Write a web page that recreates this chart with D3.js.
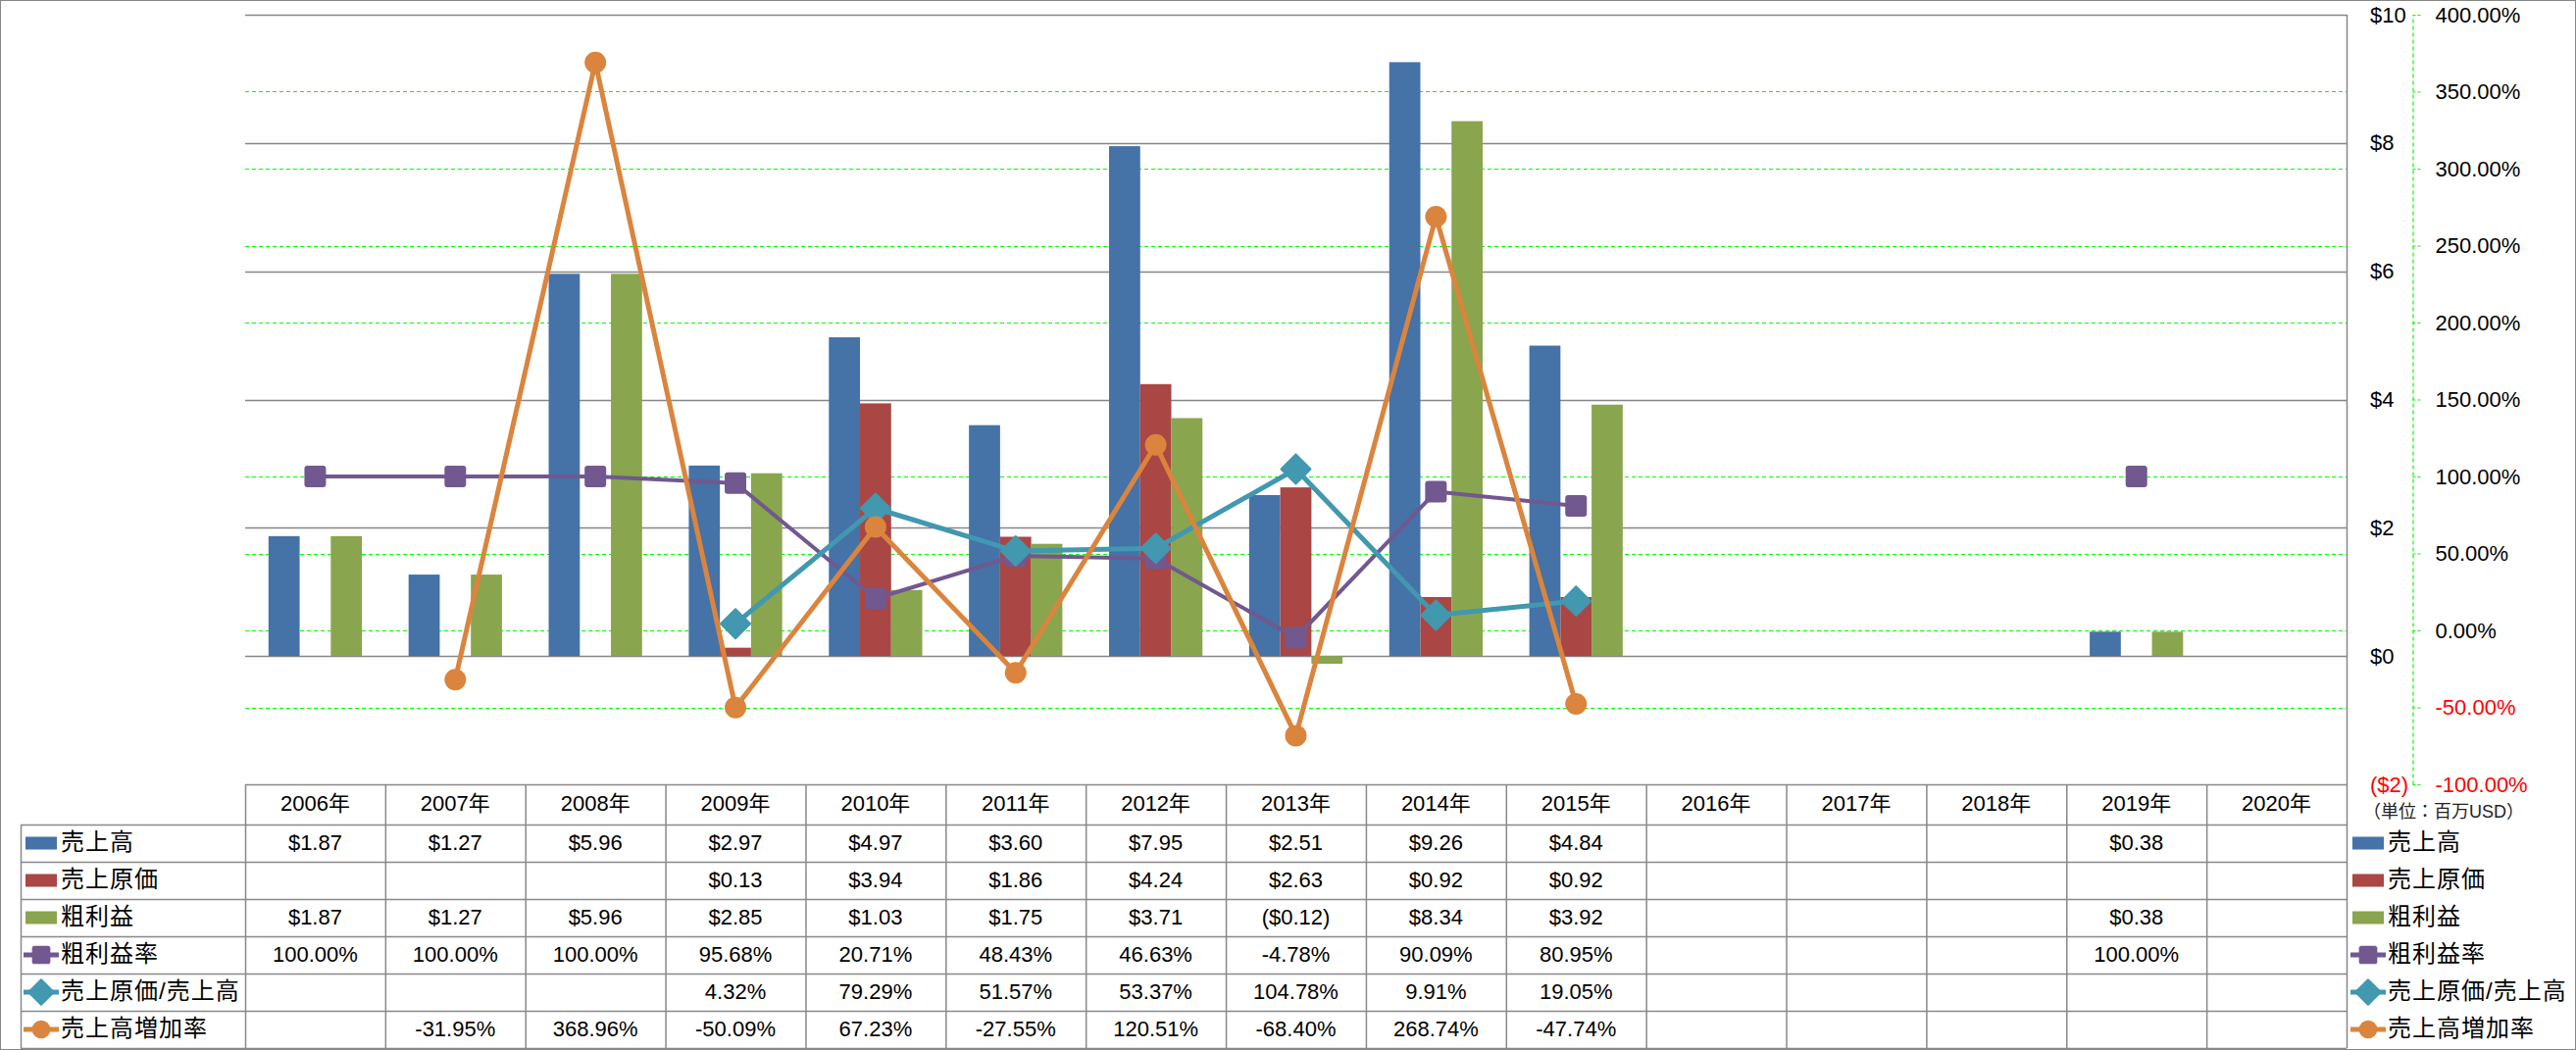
<!DOCTYPE html>
<html>
<head>
<meta charset="utf-8">
<script src="https://cdn.jsdelivr.net/npm/d3@7"></script>
<style>
  html, body { margin: 0; padding: 0; background: #fff; }
  svg { display: block; font-family: "Liberation Sans", "Noto Sans CJK JP", sans-serif; }
</style>
</head>
<body>
<svg id="chart" width="2627" height="1071"></svg>
<script>
// ---------------- DATA ----------------
const years = ["2006年","2007年","2008年","2009年","2010年","2011年","2012年","2013年","2014年","2015年","2016年","2017年","2018年","2019年","2020年"];
const sales       = [1.87, 1.27, 5.96, 2.97, 4.97, 3.60, 7.95, 2.51, 9.26, 4.84, null, null, null, 0.38, null];
const cogs        = [null, null, null, 0.13, 3.94, 1.86, 4.24, 2.63, 0.92, 0.92, null, null, null, null, null];
const gross       = [1.87, 1.27, 5.96, 2.85, 1.03, 1.75, 3.71, -0.12, 8.34, 3.92, null, null, null, 0.38, null];
const grossRate   = [100, 100, 100, 95.68, 20.71, 48.43, 46.63, -4.78, 90.09, 80.95, null, null, null, 100, null];
const cogsRatio   = [null, null, null, 4.32, 79.29, 51.57, 53.37, 104.78, 9.91, 19.05, null, null, null, null, null];
const salesGrowth = [null, -31.95, 368.96, -50.09, 67.23, -27.55, 120.51, -68.40, 268.74, -47.74, null, null, null, null, null];

const usdTicks = [-2, 0, 2, 4, 6, 8, 10];
const pctTicks = [-100, -50, 0, 50, 100, 150, 200, 250, 300, 350, 400];
const unitLabel = "（単位：百万USD）";

const seriesNames = ["売上高", "売上原価", "粗利益", "粗利益率", "売上原価/売上高", "売上高増加率"];
const colors = ["#4572A7", "#AA4643", "#89A54E", "#71588F", "#4198AF", "#DB843D"];

// ---------------- LAYOUT ----------------
const W = 2627, H = 1071;
const plotL = 250, plotR = 2393, plotT = 15, plotB = 800;
const rowTop = 841, rowH = 38, tableLeft = 21;
const fontSize = 22;
const legendFont = 24;

const svg = d3.select("#chart");

const x = d3.scaleBand().domain(years).range([plotL, plotR]).paddingInner(0).paddingOuter(0);
const xs = d3.scaleBand().domain(["s","c","g"]).range([0, x.bandwidth()]).paddingInner(0).paddingOuter(0.75);
const yUsd = d3.scaleLinear().domain([-2, 10]).range([plotB, plotT]);
const yPct = d3.scaleLinear().domain([-100, 400]).range([plotB, plotT]);

// outer border
svg.append("rect").attr("x", 0.5).attr("y", 0.5).attr("width", W - 1).attr("height", H - 1)
  .attr("fill", "#fff").attr("stroke", "#868686").attr("stroke-width", 1);

// green dashed percent gridlines
svg.append("g").selectAll("line").data(pctTicks.filter(t => t !== 400 && t !== -100)).join("line")
  .attr("x1", plotL).attr("x2", plotR)
  .attr("y1", d => Math.round(yPct(d)) + 0.5).attr("y2", d => Math.round(yPct(d)) + 0.5)
  .attr("stroke", "#00FF00").attr("stroke-width", 1.2).attr("stroke-dasharray", "4,3");

// gray usd gridlines
svg.append("g").selectAll("line").data(usdTicks.filter(t => t !== -2)).join("line")
  .attr("x1", plotL).attr("x2", plotR)
  .attr("y1", d => Math.round(yUsd(d)) + 0.5).attr("y2", d => Math.round(yUsd(d)) + 0.5)
  .attr("stroke", "#868686").attr("stroke-width", 1.5);

// bars
const barSeries = [
  {key: "s", vals: sales, color: colors[0]},
  {key: "c", vals: cogs, color: colors[1]},
  {key: "g", vals: gross, color: colors[2]}
];
const barG = svg.append("g");
barSeries.forEach(s => {
  barG.append("g").selectAll("rect")
    .data(s.vals.map((v, i) => ({v, yr: years[i]})).filter(d => d.v != null))
    .join("rect")
    .attr("x", d => x(d.yr) + xs(s.key))
    .attr("width", xs.bandwidth())
    .attr("y", d => Math.min(yUsd(d.v), yUsd(0)))
    .attr("height", d => Math.abs(yUsd(d.v) - yUsd(0)))
    .attr("fill", s.color);
});

// lines
const cx = i => x(years[i]) + x.bandwidth() / 2;
const lineSeries = [
  {vals: grossRate, color: colors[3], width: 4, marker: "square"},
  {vals: cogsRatio, color: colors[4], width: 5, marker: "diamond"},
  {vals: salesGrowth, color: colors[5], width: 5, marker: "circle"}
];
function drawMarker(g, type, px, py, color, scale) {
  const s = scale || 1;
  if (type === "square") {
    const a = 22 * s;
    g.append("rect").attr("x", px - a/2).attr("y", py - a/2).attr("width", a).attr("height", a)
      .attr("rx", 3 * s).attr("fill", color);
  } else if (type === "diamond") {
    const r = 15 * s;
    g.append("path").attr("d", `M${px},${py - r}L${px + r},${py}L${px},${py + r}L${px - r},${py}Z`)
      .attr("fill", color).attr("stroke", color).attr("stroke-width", 2).attr("stroke-linejoin", "round");
  } else {
    g.append("circle").attr("cx", px).attr("cy", py).attr("r", 11 * s).attr("fill", color);
  }
}
const lineG = svg.append("g");
lineSeries.forEach(s => {
  const pts = s.vals.map((v, i) => ({v, i}));
  const line = d3.line().defined(d => d.v != null).x(d => cx(d.i)).y(d => yPct(d.v));
  lineG.append("path").attr("d", line(pts)).attr("fill", "none")
    .attr("stroke", s.color).attr("stroke-width", s.width).attr("stroke-linejoin", "round");
  const mg = lineG.append("g");
  pts.filter(d => d.v != null).forEach(d => drawMarker(mg, s.marker, cx(d.i), yPct(d.v), s.color, 1));
});

// plot right border
svg.append("line").attr("x1", plotR + 0.5).attr("x2", plotR + 0.5).attr("y1", plotT).attr("y2", rowTop + rowH * 6)
  .attr("stroke", "#868686").attr("stroke-width", 1.5);

// ---------------- AXES ----------------
const usdFmt = v => v < 0 ? `($${Math.abs(v)})` : `$${v}`;
const pctFmt = v => v.toFixed(2) + "%";

const usdAxis = svg.append("g").attr("transform", "translate(2417,0)")
  .call(d3.axisRight(yUsd).tickValues(usdTicks).tickFormat(usdFmt).tickSize(0).tickPadding(0));
usdAxis.select(".domain").remove();
usdAxis.selectAll("text").attr("font-size", fontSize).attr("font-family", null)
  .attr("fill", d => d < 0 ? "#FF0000" : "#000");

const pctAxis = svg.append("g").attr("transform", "translate(2460.5,0)")
  .call(d3.axisRight(yPct).tickValues(pctTicks).tickFormat(pctFmt).tickSize(8).tickSizeOuter(0).tickPadding(15));
pctAxis.select(".domain").attr("stroke", "#00FF00").attr("stroke-width", 1.2).attr("stroke-dasharray", "4,3");
pctAxis.selectAll(".tick line").attr("stroke", "#00FF00").attr("stroke-width", 1.2).attr("stroke-dasharray", "3,2");
pctAxis.selectAll("text").attr("font-size", fontSize).attr("font-family", null)
  .attr("fill", d => d < 0 ? "#FF0000" : "#000");

svg.append("text").attr("x", 2410).attr("y", 829).attr("dominant-baseline", "middle")
  .attr("font-size", 18).attr("fill", "#222").text(unitLabel);

// ---------------- DATA TABLE ----------------
const tg = svg.append("g");
const tableBottom = rowTop + rowH * 6;
const gridStroke = "#898989";
// header top line
tg.append("line").attr("x1", plotL).attr("x2", plotR).attr("y1", plotB + 0.5).attr("y2", plotB + 0.5)
  .attr("stroke", gridStroke).attr("stroke-width", 1.5);
// row lines
d3.range(7).forEach(k => {
  const yy = rowTop + rowH * k + 0.5;
  tg.append("line").attr("x1", tableLeft).attr("x2", plotR).attr("y1", yy).attr("y2", yy)
    .attr("stroke", gridStroke).attr("stroke-width", 1.5);
});
// column lines
years.forEach((yr, i) => {
  tg.append("line").attr("x1", x(yr) + 0.5).attr("x2", x(yr) + 0.5).attr("y1", plotB).attr("y2", tableBottom)
    .attr("stroke", gridStroke).attr("stroke-width", 1.5);
});
tg.append("line").attr("x1", tableLeft + 0.5).attr("x2", tableLeft + 0.5).attr("y1", rowTop).attr("y2", tableBottom)
  .attr("stroke", gridStroke).attr("stroke-width", 1.5);

// header texts
tg.append("g").selectAll("text").data(years).join("text")
  .attr("x", d => x(d) + x.bandwidth() / 2).attr("y", (plotB + rowTop) / 2 + 1)
  .attr("text-anchor", "middle").attr("dominant-baseline", "middle")
  .attr("font-size", fontSize).attr("fill", "#000").text(d => d);

// row values
const moneyFmt = v => v < 0 ? `($${Math.abs(v).toFixed(2)})` : `$${v.toFixed(2)}`;
const rows = [
  {vals: sales, fmt: moneyFmt},
  {vals: cogs, fmt: moneyFmt},
  {vals: gross, fmt: moneyFmt},
  {vals: grossRate, fmt: pctFmt},
  {vals: cogsRatio, fmt: pctFmt},
  {vals: salesGrowth, fmt: pctFmt}
];
rows.forEach((r, k) => {
  const yc = rowTop + rowH * k + rowH / 2 + 1;
  tg.append("g").selectAll("text").data(r.vals.map((v, i) => ({v, i})).filter(d => d.v != null)).join("text")
    .attr("x", d => cx(d.i)).attr("y", yc)
    .attr("text-anchor", "middle").attr("dominant-baseline", "middle")
    .attr("font-size", fontSize).attr("fill", "#000").text(d => r.fmt(d.v));
});

// legend keys (in table and on right)
const markerTypes = [null, null, null, "square", "diamond", "circle"];
function legendKey(g, k, x0, textX) {
  const yc = rowTop + rowH * k + rowH / 2;
  if (k < 3) {
    g.append("rect").attr("x", x0).attr("y", yc - 6.5).attr("width", 32).attr("height", 13).attr("fill", colors[k]);
  } else {
    g.append("line").attr("x1", x0 - 2).attr("x2", x0 + 34).attr("y1", yc).attr("y2", yc)
      .attr("stroke", colors[k]).attr("stroke-width", 5);
    drawMarker(g, markerTypes[k], x0 + 16, yc, colors[k], 0.85);
  }
  g.append("text").attr("x", textX).attr("y", yc + 1).attr("dominant-baseline", "middle")
    .attr("font-size", legendFont).attr("letter-spacing", 1).attr("fill", "#000").text(seriesNames[k]);
}
const lg = svg.append("g");
seriesNames.forEach((n, k) => {
  legendKey(lg, k, 26, 62);
  legendKey(lg, k, 2399, 2435);
});
</script>
</body>
</html>
